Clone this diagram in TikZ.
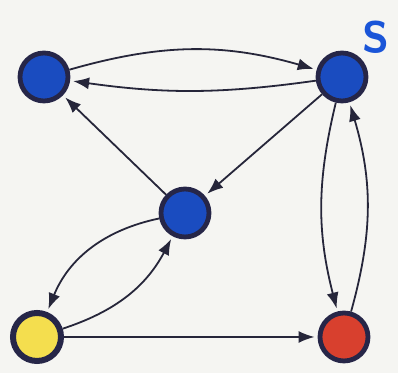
\documentclass[tikz,border=0pt]{standalone}
\usetikzlibrary{arrows.meta}

\definecolor{paper}{HTML}{F5F5F2}
\definecolor{ink}{HTML}{26263A}
\definecolor{rim}{HTML}{262648}
\definecolor{stateblue}{HTML}{1A4CC0}
\definecolor{stateyellow}{HTML}{F4DE4E}
\definecolor{statered}{HTML}{D8402E}
\definecolor{labelblue}{HTML}{1A55D8}

\begin{document}
\begin{tikzpicture}[
  x=0.5pt, y=0.5pt,
  state/.style={circle, draw=rim, line width=2.4pt, minimum size=24pt, inner sep=0pt},
  blue/.style={state, fill=stateblue},
  start/.style={state, fill=stateyellow, line width=3pt},
  goal/.style={state, fill=statered},
  edge/.style={-{Latex[length=8pt,width=6pt]}, draw=ink, line width=0.9pt, shorten >=1.5pt}
]
\fill[paper] (0,0) rectangle (398,373);
\useasboundingbox (0,0) rectangle (398,373);

\node[blue] (tl) at (44,296) {};
\node[blue] (tr) at (342,296) {};
\node[blue] (mid) at (185,160) {};
\node[start] (ys) at (37,36) {};
\node[goal] (rg) at (344,36) {};
\node[text=labelblue, font=\sffamily\bfseries\fontsize{22}{22}\selectfont] (slabel) at (376,336) {S};

\draw[edge] (tl) to[bend left=16] (tr);
\draw[edge] (tr) to[bend left=8] (tl);
\draw[edge] (mid) -- (tl);
\draw[edge] (tr) -- (mid);
\draw[edge] (mid) to[bend right=28] (ys);
\draw[edge] (ys) to[bend right=22] (mid);
\draw[edge] (ys) -- (rg);
\draw[edge] (tr) to[bend right=14] (rg);
\draw[edge] (rg) to[bend right=16] (tr);

\end{tikzpicture}
\end{document}
